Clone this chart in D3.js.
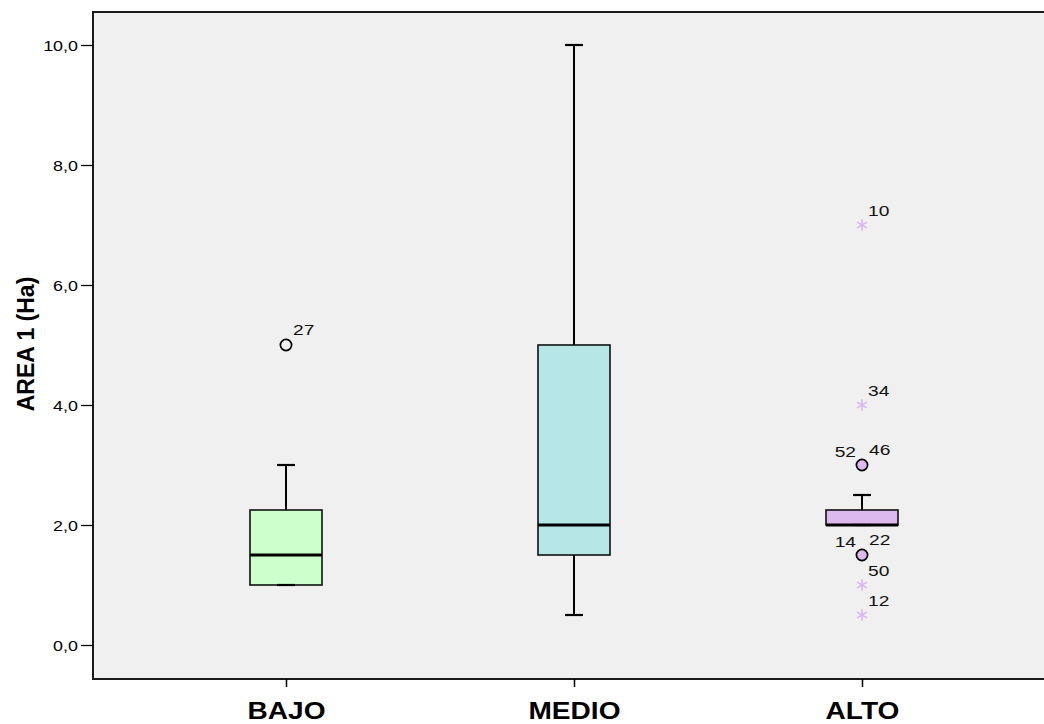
<!DOCTYPE html>
<html>
<head>
<meta charset="utf-8">
<script src="https://cdn.jsdelivr.net/npm/d3@7"></script>
<style>
  html, body { margin: 0; padding: 0; background: #ffffff; }
  svg { display: block; }
  text { font-family: Arial, "Liberation Sans", sans-serif; }
</style>
</head>
<body>
<svg id="chart" width="1044" height="724"></svg>
<script>
// Groups and their five-number summaries
const categories = ["BAJO", "MEDIO", "ALTO"];
const whiskerLow  = [1.0, 0.5, 2.0];
const q1          = [1.0, 1.5, 2.0];
const median      = [1.5, 2.0, 2.0];
const q3          = [2.25, 5.0, 2.25];
const whiskerHigh = [3.0, 10.0, 2.5];
const boxColors   = ["#ccffcc", "#b6e6e6", "#dcbaf0"];

// Outliers (circle) and extremes (star) with their case labels
const outlierGroup = ["BAJO", "ALTO", "ALTO"];
const outlierValue = [5.0, 3.0, 1.5];
const outlierLeftLabel  = ["", "52", "14"];
const outlierRightLabel = ["27", "46", "22"];

const extremeGroup = ["ALTO", "ALTO", "ALTO", "ALTO"];
const extremeValue = [7.0, 4.0, 1.0, 0.5];
const extremeLabel = ["10", "34", "50", "12"];

const yTicks = [0, 2, 4, 6, 8, 10];
const yTitle = "AREA 1 (Ha)";

const FONT = "Arial, 'Liberation Sans', sans-serif";
const WIDE = 1.28; // horizontal stretch of the small labels

const svg = d3.select("#chart");
const W = 1044;
const plot = { left: 93, top: 12, bottom: 679, right: W + 2 };

const y = d3.scaleLinear().domain([0, 10]).range([645, 45]);
const x = d3.scalePoint().domain(categories).range([286, 862]);
const boxW = 72, capW = 18;

// plot background and frame
svg.append("rect")
  .attr("x", plot.left).attr("y", plot.top)
  .attr("width", plot.right - plot.left).attr("height", plot.bottom - plot.top)
  .attr("fill", "#f0f0f0").attr("stroke", "#1a1a1a").attr("stroke-width", 2);

// y axis
const yAxis = d3.axisLeft(y).tickValues(yTicks)
  .tickFormat(d => d3.format(".1f")(d).replace(".", ","))
  .tickSize(12);
const ya = svg.append("g").attr("transform", `translate(${plot.left},0)`).call(yAxis);
ya.select(".domain").remove();
ya.selectAll(".tick line").attr("stroke", "#000").attr("stroke-width", 1.3);
ya.selectAll(".tick text")
  .attr("x", 0).attr("dy", "0.36em").attr("text-anchor", "end")
  .attr("transform", `translate(-15,0) scale(${WIDE},1)`)
  .attr("font-size", 14).attr("fill", "#000").attr("font-family", FONT);

// x axis
const xAxis = d3.axisBottom(x).tickSize(8);
const xa = svg.append("g").attr("transform", `translate(0,${plot.bottom})`).call(xAxis);
xa.select(".domain").remove();
xa.selectAll(".tick line").attr("stroke", "#000").attr("stroke-width", 1.5);
xa.selectAll(".tick text")
  .attr("y", 40).attr("dy", 0)
  .attr("transform", "scale(1.17,1)")
  .attr("font-size", 24).attr("font-weight", "bold").attr("fill", "#000")
  .attr("font-family", FONT);

// y title
svg.append("text")
  .attr("transform", `translate(34,344) rotate(-90)`)
  .attr("text-anchor", "middle")
  .attr("font-size", 23).attr("font-weight", "bold")
  .text(yTitle);

// boxes
const boxes = categories.map((c, i) => ({
  c, lo: whiskerLow[i], q1: q1[i], med: median[i], q3: q3[i], hi: whiskerHigh[i], color: boxColors[i]
}));

const g = svg.append("g");
boxes.forEach(b => {
  const cx = x(b.c);
  // whiskers
  if (b.hi > b.q3) {
    g.append("line").attr("x1", cx).attr("x2", cx).attr("y1", y(b.q3)).attr("y2", y(b.hi))
      .attr("stroke", "#000").attr("stroke-width", 2);
  }
  if (b.lo < b.q1) {
    g.append("line").attr("x1", cx).attr("x2", cx).attr("y1", y(b.q1)).attr("y2", y(b.lo))
      .attr("stroke", "#000").attr("stroke-width", 2);
  }
  // box
  g.append("rect")
    .attr("x", cx - boxW / 2).attr("y", y(b.q3))
    .attr("width", boxW).attr("height", y(b.q1) - y(b.q3))
    .attr("fill", b.color).attr("stroke", "#111").attr("stroke-width", 1.6);
  // caps
  g.append("line").attr("x1", cx - capW / 2).attr("x2", cx + capW / 2)
    .attr("y1", y(b.hi)).attr("y2", y(b.hi)).attr("stroke", "#000").attr("stroke-width", 2.2);
  g.append("line").attr("x1", cx - capW / 2).attr("x2", cx + capW / 2)
    .attr("y1", y(b.lo)).attr("y2", y(b.lo)).attr("stroke", "#000").attr("stroke-width", 2.2);
  // median
  g.append("line").attr("x1", cx - boxW / 2).attr("x2", cx + boxW / 2)
    .attr("y1", y(b.med)).attr("y2", y(b.med)).attr("stroke", "#000").attr("stroke-width", 3);
});

// case label, stretched horizontally like the axis labels
function caseLabel(px, py, txt, anchor) {
  g.append("text")
    .attr("transform", `translate(${px},${py}) scale(${WIDE},1)`)
    .attr("text-anchor", anchor)
    .attr("font-size", 15).attr("fill", "#111").attr("font-family", FONT)
    .text(txt);
}

// outlier circles
outlierGroup.forEach((c, i) => {
  const cx = x(c), cy = y(outlierValue[i]);
  const fill = c === "ALTO" ? boxColors[2] : "none";
  g.append("circle").attr("cx", cx).attr("cy", cy).attr("r", 5.6)
    .attr("fill", fill).attr("stroke", "#000").attr("stroke-width", 1.7);
  if (outlierRightLabel[i]) caseLabel(cx + 7, cy - 10, outlierRightLabel[i], "start");
  if (outlierLeftLabel[i]) caseLabel(cx - 6, cy - 8, outlierLeftLabel[i], "end");
});

// extreme stars
const star = d3.symbol().type(d3.symbolAsterisk).size(90);
extremeGroup.forEach((c, i) => {
  const cx = x(c), cy = y(extremeValue[i]);
  g.append("path").attr("d", star()).attr("transform", `translate(${cx},${cy})`)
    .attr("fill", "none").attr("stroke", "#d8b8f0").attr("stroke-width", 1.6);
  caseLabel(cx + 6, cy - 9, extremeLabel[i], "start");
});
</script>
</body>
</html>
